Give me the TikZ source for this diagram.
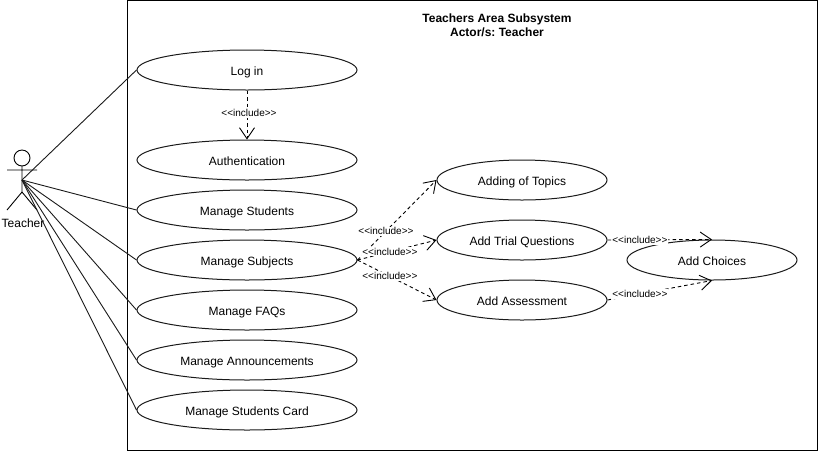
\documentclass[tikz,border=0pt]{standalone}
\usepackage{fontspec}
\setmainfont{Liberation Sans}
\usetikzlibrary{shapes.geometric,arrows.meta}
\definecolor{linea}{HTML}{1A1A1A}
\newcommand{\inclabel}{{<}{<}include{>}{>}}
\frenchspacing

\begin{document}
\begin{tikzpicture}[x=1pt, y=-1pt,
    caso/.style={ellipse, draw=linea, line width=1pt, inner sep=0pt, minimum width=220, minimum height=40, text height=10pt, text depth=0pt, font=\fontsize{12}{14}\selectfont},
    casob/.style={caso, minimum width=170},
    asoc/.style={draw=linea, line width=0.9pt},
    incl/.style={draw=black, line width=0.9pt, dash pattern=on 3.5pt off 3pt, -{Straight Barb[length=11pt, width=15pt, line width=0.9pt]}},
    etiq/.style={fill=white, inner xsep=0.5pt, inner ysep=1pt, font=\fontsize{10}{12}\selectfont},
    titulo/.style={font=\fontsize{12}{14}\bfseries\selectfont, align=center}]
  \useasboundingbox (0,0) rectangle (818,451);
  % system box
  \draw[line width=1pt] (127.5,0.5) rectangle (817.5,450.5);
  \node[titulo] (title) at (497,25) {Teachers Area Subsystem\\Actor/s: Teacher};
  % actor
  \draw[line width=0.9pt] (22,158) circle (8);
  \draw[line width=0.9pt] (22,166) -- (22,192) (7,170) -- (37,170) (7,210) -- (22,192) -- (37,210);
  \coordinate (teacher) at (22,180);
  \node[font=\fontsize{12}{14}\selectfont] (teacherlabel) at (23,223) {Teacher};
  % left column
  \node[caso] (login) at (247,70) {Log in};
  \node[caso] (auth) at (247,160) {Authentication};
  \node[caso] (students) at (247,210) {Manage Students};
  \node[caso] (subjects) at (247,260) {Manage Subjects};
  \node[caso] (faqs) at (247,310) {Manage FAQs};
  \node[caso] (announce) at (247,360) {Manage Announcements};
  \node[caso] (card) at (247,410) {Manage Students Card};
  % right columns
  \node[casob] (topics) at (522,180) {Adding of Topics};
  \node[casob] (trial) at (522,240) {Add Trial Questions};
  \node[casob] (assess) at (522,300) {Add Assessment};
  \node[casob] (choices) at (712,260) {Add Choices};
  % associations
  \foreach \caseName in {login,students,subjects,faqs,announce,card}
    \draw[asoc] (teacher) -- (\caseName.west);
  % includes
  \draw[incl] (login) -- node[etiq, pos=0.46, xshift=2] {\inclabel} (auth);
  \draw[incl] (subjects.east) -- node[etiq, pos=0.36] {\inclabel} (topics.west);
  \draw[incl] (subjects.east) -- node[etiq, pos=0.41] {\inclabel} (trial.west);
  \draw[incl] (subjects.east) -- node[etiq, pos=0.41] {\inclabel} (assess.west);
  \draw[incl] (trial.east) -- node[etiq, pos=0.31] {\inclabel} (choices.north);
  \draw[incl] (assess.east) -- node[etiq, pos=0.31] {\inclabel} (choices.south);
\end{tikzpicture}
\end{document}
